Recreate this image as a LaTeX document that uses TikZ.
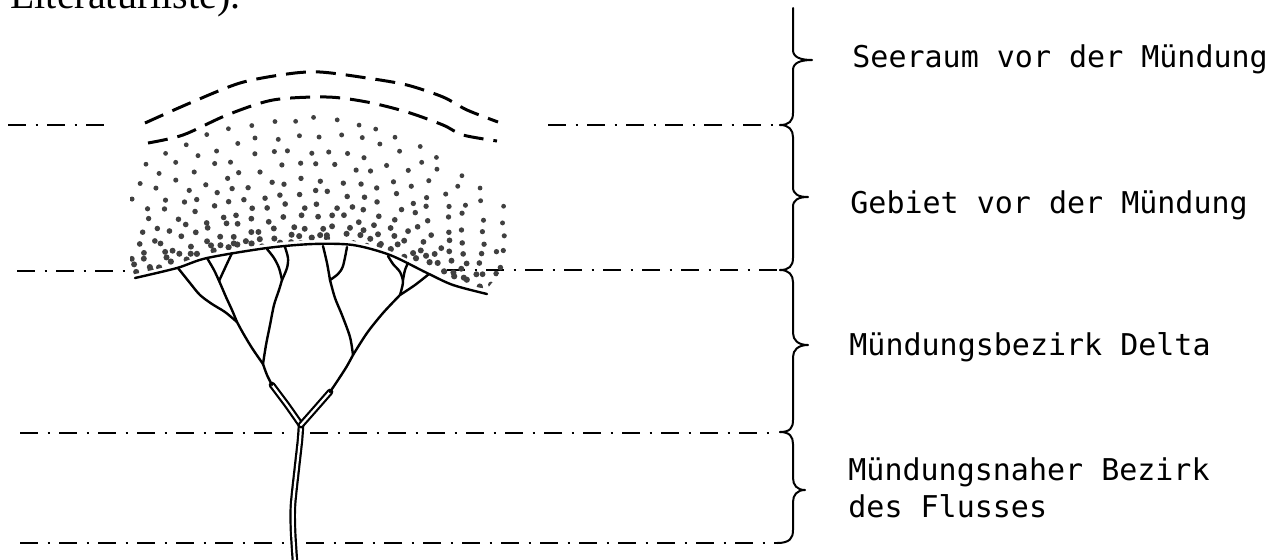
\documentclass[tikz,border=0pt]{standalone}
\usepackage{fontspec}
\setmainfont{Liberation Serif}
\newfontfamily\labelfont{DejaVu Sans Mono}
\begin{document}
\begin{tikzpicture}[x=0.5pt,y=-0.5pt,
  zone/.style={line width=1.4pt, dash pattern=on 9pt off 4.75pt on 1pt off 4.75pt},
  front/.style={line width=1.5pt, dash pattern=on 10pt off 5pt},
  coastline/.style={line width=1.2pt, line cap=round, line join=round},
  chan/.style={line width=1.2pt, line cap=round, line join=round},
  dblchan/.style={double, double distance=1.1pt, line width=1.1pt, line cap=round},
  bracket/.style={line width=1pt, line join=round, line cap=round},
  lbl/.style={font=\labelfont\fontsize{15pt}{18.5pt}\selectfont, anchor=base west, inner sep=0pt},
  dotfill/.style={fill=black!75}
]
\useasboundingbox (0,0) rectangle (1269,559);
\clip (0,0) rectangle (1269,559);

% running text above the figure
\node[anchor=base west, inner sep=0pt, font=\fontsize{20pt}{24pt}\selectfont] (txt) at (10,8) {Literaturliste).};

% zone boundaries
\draw[zone] (8,125) -- (107,125);
\draw[zone] (548,125) -- (777,125);
\draw[zone] (17,271) -- (135,271);
\draw[zone] (447,270) -- (777,270);
\draw[zone] (20,433) -- (290,433);
\draw[zone] (310,433) -- (777,433);
\draw[zone] (20,543) -- (290,543);
\draw[zone] (306,543) -- (777,543);

% fronts of the river plume
\draw[front] plot[smooth] coordinates {(145,123) (190,103) (240,83) (287,74) (320,72) (367,78) (407,85) (443,97) (467,110) (498,122)};
\draw[front] plot[smooth] coordinates {(148,143) (183,135) (227,115) (273,100) (327,97) (367,102) (407,112) (443,125) (463,135) (497,141)};

% stippled sediment fan
\pgfmathsetseed{11}
\begin{scope}
\clip (130,274) -- plot[smooth] coordinates {(135,274) (177,264) (207,254) (267,244) (313,240) (353,241) (390,251) (427,269) (453,281) (487,289)} -- (512,258) -- (512,100) -- (130,100) -- cycle;
\foreach \i in {0,...,10}{
  \pgfmathsetmacro\rt{\i/11}
  \pgfmathsetmacro\ryc{244-126*(1-\rt)^1.5}
  \pgfmathsetmacro\rfac{1+0.5*(1-\rt)}
  \pgfmathsetmacro\rsp{21-9*\rt}
  \pgfmathsetmacro\roff{rnd*\rsp}
  \pgfmathsetmacro\rrad{1.2+0.4*\rt}
  \foreach \kk in {0,...,32}{
    \pgfmathsetmacro\px{132+\roff+\kk*\rsp+4*rand}
    \pgfmathsetmacro\pu{(\px-315)/180}
    \pgfmathsetmacro\pd{\px<315 ? 34 : 55}
    \pgfmathsetmacro\py{\ryc+\rfac*\pd*\pu*\pu+3*rand}
    \fill[dotfill] (\px,\py) circle[radius=\rrad pt];
  }
}
\end{scope}

% coastline
\draw[coastline] plot[smooth] coordinates {(135,278) (177,268) (207,258) (267,248) (313,244) (353,245) (390,255) (427,273) (453,285) (487,294)};

% river and delta channels
\draw[dblchan] plot[smooth] coordinates {(295,562) (293,530) (293,505) (297,467) (300,440) (301,425)};
\draw[dblchan] plot[smooth] coordinates {(301,425) (287,405) (272,385)};
\draw[dblchan] plot[smooth] coordinates {(301,425) (316,408) (330,392)};

\draw[chan] plot[smooth] coordinates {(272,385) (267,375) (263,364)};
\draw[chan] plot[smooth] coordinates {(263,364) (252,348) (243,333) (237,322)};
\draw[chan] plot[smooth] coordinates {(263,364) (266,345) (270,325) (274,305) (279,290) (282,280)};
\draw[chan] plot[smooth] coordinates {(237,322) (232,310) (226,297) (220,283) (214,270) (207,258)};
\draw[chan] plot[smooth] coordinates {(237,322) (225,312) (212,304) (200,295) (190,283) (178,268)};
\draw[chan] plot[smooth] coordinates {(219,281) (225,268) (232,253)};
\draw[chan] plot[smooth] coordinates {(282,280) (279,268) (274,258) (267,249)};
\draw[chan] plot[smooth] coordinates {(282,280) (287,268) (288,258) (285,247)};

\draw[chan] plot[smooth] coordinates {(330,392) (340,377) (347,366) (353,355)};
\draw[chan] plot[smooth] coordinates {(353,355) (350,337) (342,315) (335,298) (330,280)};
\draw[chan] plot[smooth] coordinates {(330,280) (327,263) (323,246)};
\draw[chan] plot[smooth] coordinates {(330,280) (338,274) (343,266) (347,247)};
\draw[chan] plot[smooth] coordinates {(353,355) (367,333) (383,313) (400,295)};
\draw[chan] plot[smooth] coordinates {(400,295) (415,285) (429,274)};
\draw[chan] plot[smooth] coordinates {(400,295) (403,282) (400,272) (393,264) (388,256)};
\draw[chan] plot[smooth] coordinates {(403,280) (405,270) (408,263)};

% braces marking the zones
\draw[bracket] (793,8) -- (793,50) .. controls (793,57) and (800,60) .. (812,60)
  .. controls (800,60) and (793,63) .. (793,70) -- (793,113)
  .. controls (793,121) and (789,125) .. (780,125);
\draw[bracket] (780,125) .. controls (789,125) and (793,130) .. (793,137) -- (793,187)
  .. controls (793,194) and (798,197) .. (808,197)
  .. controls (798,197) and (793,200) .. (793,207) -- (793,258)
  .. controls (793,266) and (789,270) .. (780,270);
\draw[bracket] (780,270) .. controls (789,270) and (793,275) .. (793,282) -- (793,333)
  .. controls (793,340) and (798,345) .. (808,345)
  .. controls (798,345) and (793,350) .. (793,357) -- (793,420)
  .. controls (793,428) and (790,432) .. (780,432);
\draw[bracket] (780,432) .. controls (790,432) and (793,437) .. (793,444) -- (793,478)
  .. controls (793,485) and (797,490) .. (805,490)
  .. controls (797,490) and (793,495) .. (793,502) -- (793,530)
  .. controls (793,538) and (790,543) .. (777,543);

% zone names
\node[lbl] (lSee) at (852,67) {Seeraum vor der Mündung};
\node[lbl] (lGeb) at (850,213) {Gebiet vor der Mündung};
\node[lbl] (lDel) at (849,355) {Mündungsbezirk Delta};
\node[lbl] (lFlA) at (848,480) {Mündungsnaher Bezirk};
\node[lbl] (lFlB) at (848,517) {des Flusses};
\end{tikzpicture}
\end{document}
